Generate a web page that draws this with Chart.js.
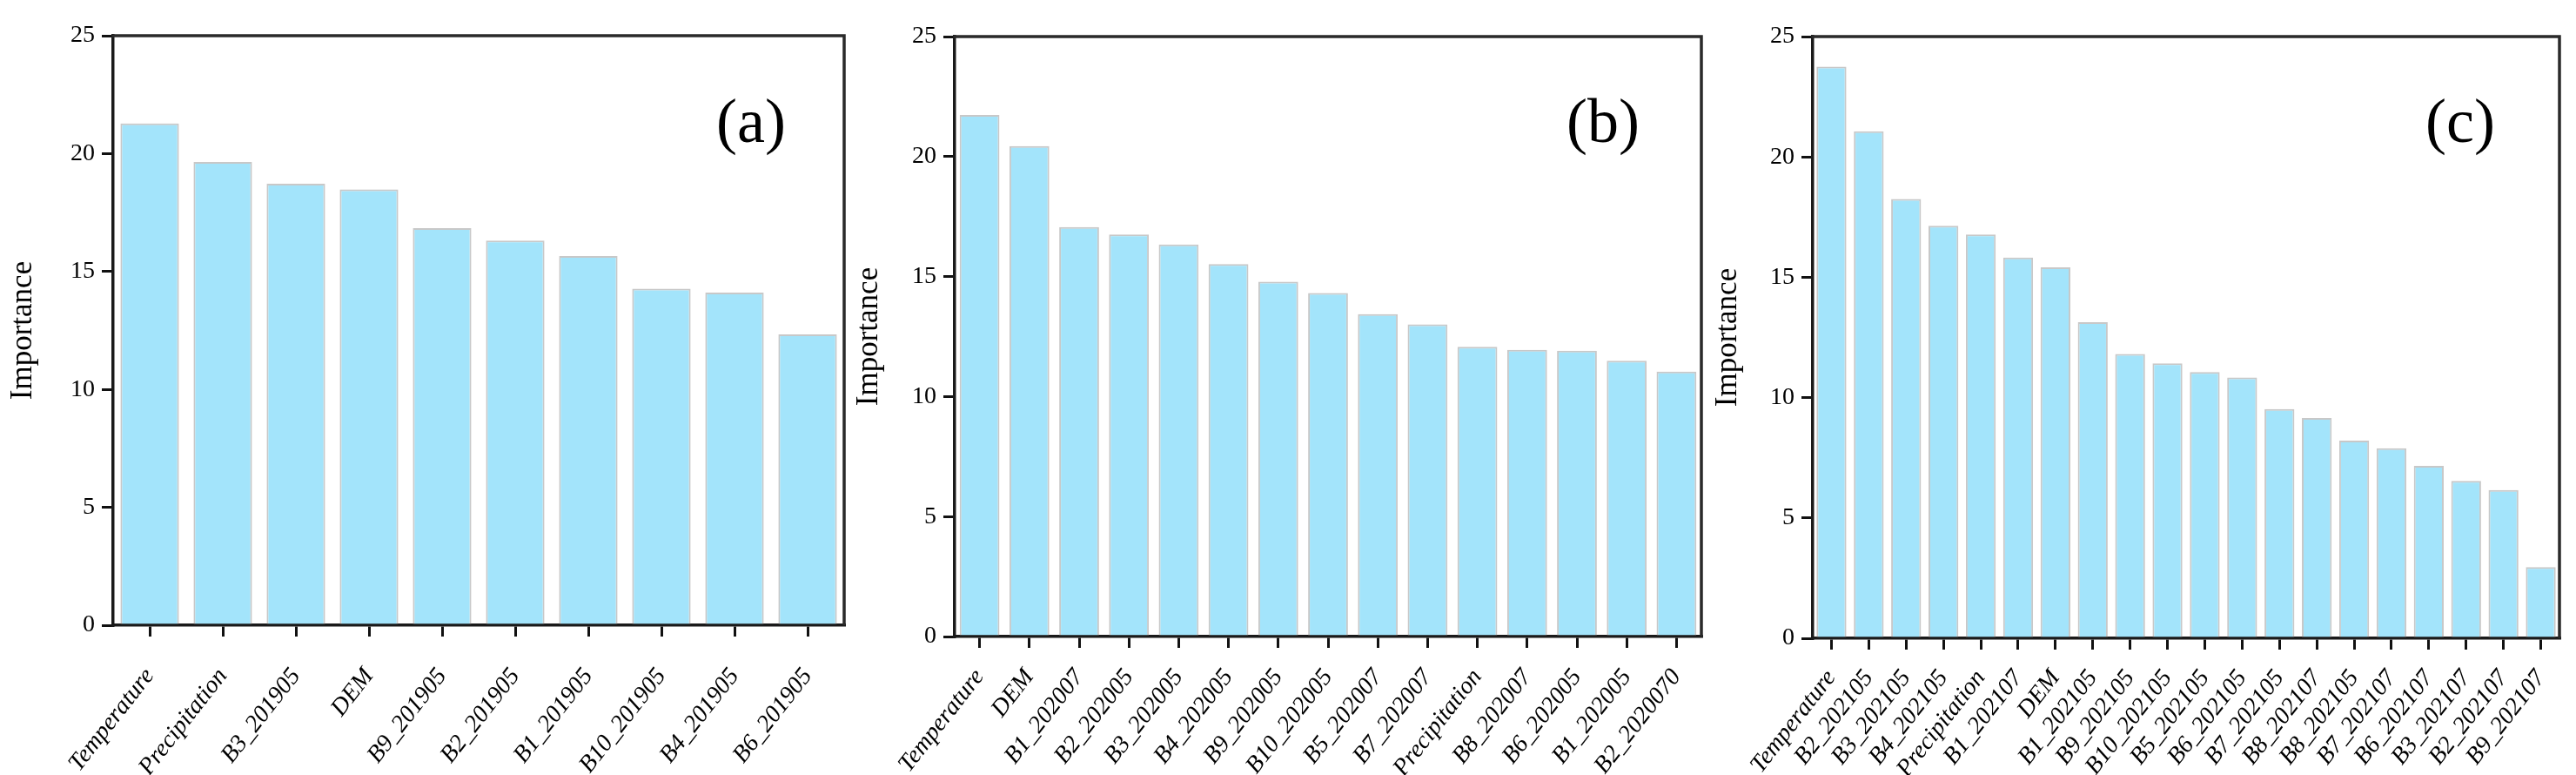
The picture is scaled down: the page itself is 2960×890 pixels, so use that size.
<!DOCTYPE html>
<html><head><meta charset="utf-8">
<script src="https://cdn.jsdelivr.net/npm/chart.js@4.4.1/dist/chart.umd.min.js"></script>
<style>
html,body{margin:0;padding:0;background:#fff;}
#wrap{position:relative;width:2960px;height:890px;overflow:hidden;background:#fff;}
canvas{position:absolute;top:0;}
</style></head><body>
<div id="wrap">
<canvas id="ca" width="975" height="890" style="left:0px;width:975px;height:890px"></canvas>
<canvas id="cb" width="985" height="890" style="left:975px;width:985px;height:890px"></canvas>
<canvas id="cc" width="1000" height="890" style="left:1960px;width:1000px;height:890px"></canvas>
</div>
<script>
// ---- data ----
const catsA = ["Temperature","Precipitation","B3_201905","DEM","B9_201905","B2_201905","B1_201905","B10_201905","B4_201905","B6_201905"];
const valsA = [21.28,19.65,18.72,18.48,16.84,16.31,15.66,14.27,14.11,12.33];

const catsB = ["Temperature","DEM","B1_202007","B2_202005","B3_202005","B4_202005","B9_202005","B10_202005","B5_202007","B7_202007","Precipitation","B8_202007","B6_202005","B1_202005","B2_2020070"];
const valsB = [21.73,20.44,17.06,16.75,16.34,15.52,14.79,14.31,13.43,13.01,12.07,11.95,11.91,11.49,11.04];

const catsC = ["Temperature","B2_202105","B3_202105","B4_202105","Precipitation","B1_202107","DEM","B1_202105","B9_202105","B10_202105","B5_202105","B6_202105","B7_202105","B8_202107","B8_202105","B7_202107","B6_202107","B3_202107","B2_202107","B9_202107"];
const valsC = [23.75,21.07,18.25,17.14,16.78,15.82,15.41,13.13,11.81,11.42,11.06,10.84,9.52,9.15,8.21,7.90,7.16,6.54,6.16,2.96];

const panelLabels = ["(a)","(b)","(c)"];
const yTicks = [0,5,10,15,20,25];
const yTitle = "Importance";

// ---- layout / style ----
const SERIF = "'Liberation Serif','Times New Roman',serif";
const panels = [
  {id:"ca", cats:catsA, vals:valsA, label:panelLabels[0], w:975,  left:130, right:970, top:41, bottom:718, tpad:6, lx:863, ly:144, xpad:30},
  {id:"cb", cats:catsB, vals:valsB, label:panelLabels[1], w:985,  left:122, right:980, top:42, bottom:731, tpad:3, lx:867, ly:144, xpad:18},
  {id:"cc", cats:catsC, vals:valsC, label:panelLabels[2], w:1000, left:123, right:981, top:42, bottom:733, tpad:5, lx:867, ly:144, xpad:17}
];

const framePlugin = {
  id:'frame',
  afterDraw(chart, args, opts){
    const {ctx, chartArea:a} = chart;
    ctx.save();
    ctx.strokeStyle = '#2a2a2a';
    ctx.lineWidth = 3.5;
    ctx.beginPath();
    ctx.moveTo(a.left - 1.5, a.top);
    ctx.lineTo(a.right, a.top);
    ctx.lineTo(a.right, a.bottom);
    ctx.stroke();
    ctx.fillStyle = '#000';
    ctx.font = "72px " + SERIF;
    ctx.textAlign = 'center';
    ctx.textBaseline = 'middle';
    ctx.fillText(opts.text, opts.x, opts.y);
    ctx.restore();
  }
};

panels.forEach(p => {
  new Chart(document.getElementById(p.id), {
    type:'bar',
    data:{
      labels:p.cats,
      datasets:[{
        data:p.vals,
        backgroundColor:'#a3e4fb',
        borderColor:'#c8c8c8',
        borderWidth:2,
        borderSkipped:'start',
        barPercentage:0.8,
        categoryPercentage:1.0
      }]
    },
    options:{
      responsive:false,
      animation:false,
      devicePixelRatio:1,
      layout:{padding:{top:p.top, right:p.w - p.right, bottom:0, left:0}},
      plugins:{
        legend:{display:false},
        tooltip:{enabled:false},
        frame:{text:p.label, x:p.lx, y:p.ly}
      },
      scales:{
        x:{
          offset:true,
          grid:{display:true, offset:false, drawOnChartArea:false, drawTicks:true, tickLength:13, color:'#111', lineWidth:3},
          border:{display:true, color:'#1a1a1a', width:3.5},
          ticks:{minRotation:52, maxRotation:52, autoSkip:false, padding:p.xpad, color:'#000',
                 font:{family:SERIF, size:28, style:'italic'}},
          afterFit(s){ s.height = 890 - p.bottom; s.paddingLeft = 0; s.paddingRight = 0; }
        },
        y:{
          min:0, max:25,
          afterBuildTicks(s){ s.ticks = yTicks.map(v => ({value:v})); },
          grid:{display:true, drawOnChartArea:false, drawTicks:true, tickLength:13, color:'#111', lineWidth:3},
          border:{display:true, color:'#1a1a1a', width:3.5},
          ticks:{padding:8, color:'#000', font:{family:SERIF, size:28}},
          title:{display:true, text:yTitle, color:'#000', padding:{top:p.tpad, bottom:0},
                 font:{family:SERIF, size:35}},
          afterFit(s){ s.width = p.left; }
        }
      }
    },
    plugins:[framePlugin]
  });
});
</script>
</body></html>
